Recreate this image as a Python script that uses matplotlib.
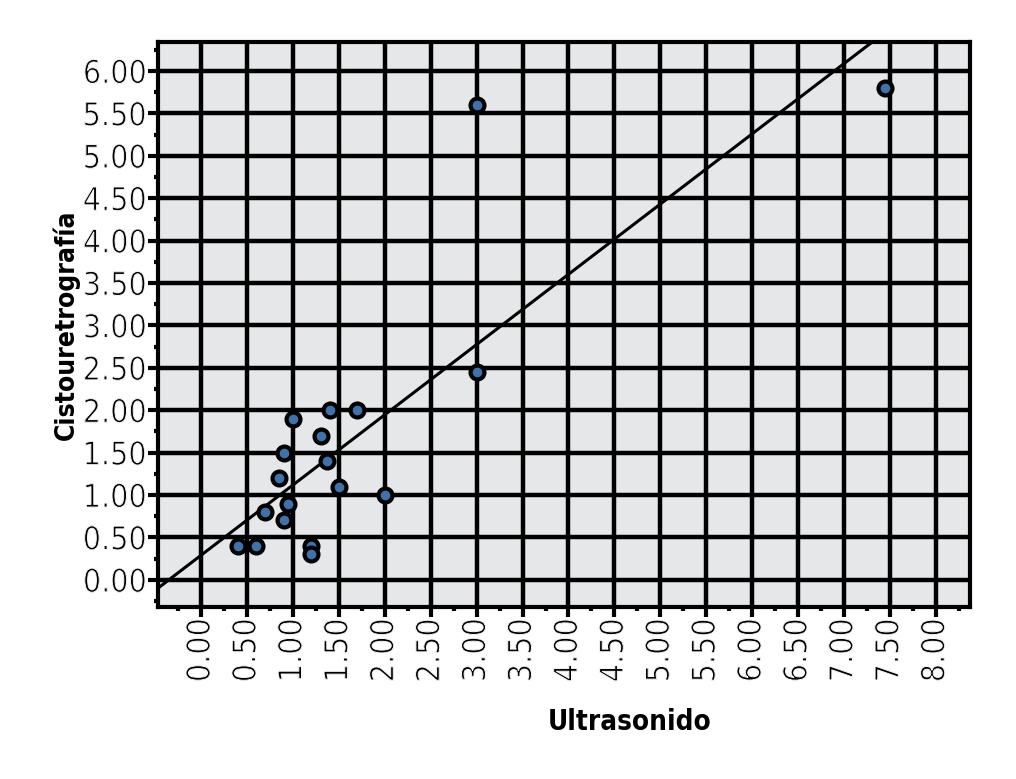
import numpy as np
import matplotlib
matplotlib.use("Agg")
import matplotlib.pyplot as plt
import matplotlib.patheffects as pe
from matplotlib.ticker import MultipleLocator, FormatStrFormatter

# data
ultrasonido = [0.40, 0.60, 0.70, 0.85, 0.90, 0.90, 0.95, 1.00, 1.20, 1.20,
               1.30, 1.37, 1.40, 1.50, 1.70, 2.00, 3.00, 3.00, 7.45]
cistouretrografia = [0.40, 0.40, 0.80, 1.20, 0.70, 1.50, 0.90, 1.90, 0.40, 0.30,
                     1.70, 1.40, 2.00, 1.10, 2.00, 1.00, 2.45, 5.60, 5.80]

x = np.array(ultrasonido)
y = np.array(cistouretrografia)
slope, intercept = np.polyfit(x, y, 1)

plt.rcParams['font.family'] = ['DejaVu Sans']
plt.rcParams['font.stretch'] = 'condensed'

fig = plt.figure(figsize=(10.16, 7.79), dpi=100)
ax = fig.add_axes([0.1555, 0.2208, 0.799, 0.725])
ax.set_facecolor('#e6e7e9')

ax.set_xlim(-0.47, 8.37)
ax.set_ylim(-0.32, 6.34)

ax.xaxis.set_major_locator(MultipleLocator(0.5))
ax.yaxis.set_major_locator(MultipleLocator(0.5))
ax.xaxis.set_minor_locator(MultipleLocator(0.25))
ax.yaxis.set_minor_locator(MultipleLocator(0.25))
ax.xaxis.set_major_formatter(FormatStrFormatter('%.2f'))
ax.yaxis.set_major_formatter(FormatStrFormatter('%.2f'))

ax.grid(True, which='major', color='black', linewidth=3.2)
ax.set_axisbelow(True)
for s in ax.spines.values():
    s.set_linewidth(3)

ax.tick_params(which='major', length=7, width=3, labelsize=23, pad=1, labelcolor='black')
ax.tick_params(which='minor', length=3, width=3)
ax.tick_params(axis='x', labelrotation=90)
# thin the glyphs a little so they look like a light face
thin = [pe.Normal(), pe.Stroke(linewidth=0.7, foreground='white')]
for lab in ax.get_xticklabels() + ax.get_yticklabels():
    lab.set_fontstretch('condensed')
    lab.set_path_effects(thin)

xs = np.array([-0.5, 8.4])
ax.plot(xs, intercept + slope * xs, color='black', linewidth=2.2, zorder=3)

ax.scatter(x, y, s=100, facecolor='#3d72ad', edgecolor='black', linewidth=3, zorder=4)

ax.set_xlabel('Ultrasonido', fontsize=20, fontweight='bold', fontstretch='condensed')
ax.set_ylabel('Cistouretrografía', fontsize=19, fontweight='bold', fontstretch='condensed')
ax.xaxis.set_label_coords(0.581, -0.178)
ax.yaxis.set_label_coords(-0.096, 0.5)

fig.savefig('out.png', dpi=100)
